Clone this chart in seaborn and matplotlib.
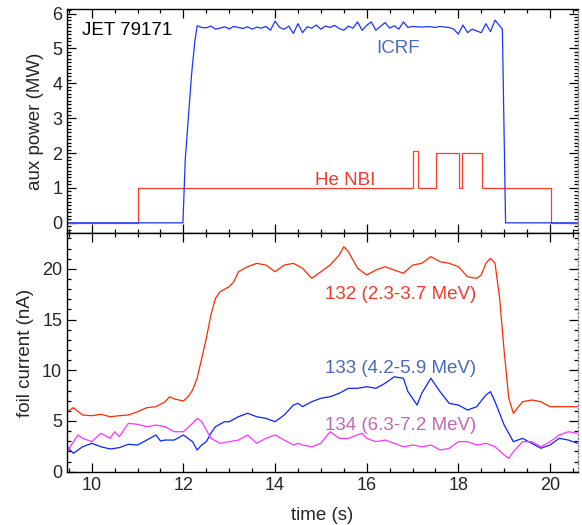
import numpy as np
import pandas as pd
import matplotlib
matplotlib.use("Agg")
import matplotlib.pyplot as plt
from matplotlib.ticker import MultipleLocator
import seaborn as sns

# ---------------- data ----------------
# ICRF power (MW)
icrf_t = [9.46, 11.99, 12.04, 12.11, 12.18, 12.25,
          12.3, 12.4, 12.5, 12.6, 12.7, 12.8, 12.9, 13.0, 13.1, 13.2, 13.3, 13.4, 13.5, 13.6, 13.7,
          13.8, 13.9, 14.0, 14.1, 14.2, 14.3, 14.4, 14.5, 14.6, 14.7, 14.8, 14.9, 15.0, 15.1, 15.2,
          15.3, 15.4, 15.5, 15.6, 15.7, 15.8, 15.9, 16.0, 16.1, 16.2, 16.3, 16.4, 16.5, 16.6, 16.7,
          16.8, 16.9, 17.0, 17.1, 17.2, 17.3, 17.4, 17.5, 17.6, 17.7, 17.8, 17.9, 18.0, 18.1, 18.2,
          18.3, 18.4, 18.5, 18.6, 18.7, 18.8, 18.9, 18.96, 19.03, 20.6]
icrf_p = [0.0, 0.0, 1.80, 3.04, 4.28, 5.20,
          5.65, 5.60, 5.59, 5.64, 5.55, 5.58, 5.62, 5.56, 5.63, 5.60, 5.57, 5.62, 5.55, 5.61, 5.58,
          5.63, 5.52, 5.78, 5.60, 5.55, 5.64, 5.43, 5.71, 5.45, 5.62, 5.58, 5.67, 5.55, 5.64, 5.60,
          5.66, 5.57, 5.52, 5.64, 5.58, 5.76, 5.52, 5.66, 5.76, 5.52, 5.63, 5.74, 5.58, 5.65, 5.55,
          5.76, 5.60, 5.63, 5.62, 5.61, 5.62, 5.62, 5.60, 5.63, 5.61, 5.60, 5.55, 5.41, 5.67, 5.45,
          5.55, 5.50, 5.45, 5.71, 5.48, 5.81, 5.65, 5.55, 0.0, 0.0]

# He NBI power (MW), step changes
nbi_t = [9.46, 11.0, 17.02, 17.11, 17.51, 18.02, 18.07, 18.52, 20.02, 20.6]
nbi_p = [0.0, 1.0, 2.05, 1.0, 2.0, 1.0, 2.0, 1.0, 0.0, 0.0]

# foil currents (nA)
f132_t = [9.46, 9.6, 9.8, 10.0, 10.2, 10.4, 10.6, 10.8, 11.0, 11.2, 11.4, 11.6, 11.7, 11.8, 12.0,
          12.1, 12.2, 12.3, 12.4, 12.5, 12.6, 12.7, 12.8, 13.0, 13.1, 13.2, 13.4, 13.6, 13.8, 14.0,
          14.2, 14.4, 14.6, 14.8, 15.0, 15.2, 15.4, 15.5, 15.6, 15.8, 16.0, 16.2, 16.4, 16.6, 16.8,
          17.0, 17.2, 17.4, 17.6, 17.8, 18.0, 18.2, 18.4, 18.5, 18.6, 18.7, 18.8, 18.9, 19.0, 19.1,
          19.2, 19.4, 19.6, 19.8, 20.0, 20.2, 20.4, 20.6]
f132_i = [5.91, 6.31, 5.59, 5.52, 5.66, 5.42, 5.52, 5.59, 5.91, 6.31, 6.41, 6.90, 7.39, 7.17, 6.97,
          7.39, 8.05, 9.21, 11.18, 13.15, 15.45, 17.09, 17.74, 18.24, 18.73, 19.71, 20.21, 20.54, 20.37, 19.71,
          20.37, 20.54, 20.05, 19.06, 19.71, 20.37, 21.36, 22.18, 21.69, 20.05, 19.39, 19.88, 20.21, 19.88, 19.56,
          20.37, 20.54, 21.20, 20.70, 20.54, 20.21, 19.22, 19.06, 19.39, 20.54, 21.04, 20.54, 17.09, 11.83, 7.24,
          5.76, 6.90, 7.07, 6.90, 6.41, 6.41, 6.41, 6.41]

f133_t = [9.46, 9.6, 9.8, 10.0, 10.2, 10.4, 10.6, 10.8, 11.0, 11.2, 11.4, 11.5, 11.6, 11.8, 12.0,
          12.2, 12.3, 12.4, 12.5, 12.6, 12.7, 12.9, 13.0, 13.2, 13.4, 13.6, 13.8, 14.0, 14.2, 14.4,
          14.5, 14.6, 14.8, 15.0, 15.2, 15.4, 15.6, 15.8, 16.0, 16.2, 16.4, 16.6, 16.8, 16.9, 17.0,
          17.1, 17.2, 17.4, 17.6, 17.8, 18.0, 18.2, 18.4, 18.6, 18.7, 18.8, 19.0, 19.2, 19.4, 19.6,
          19.8, 20.0, 20.2, 20.4, 20.6]
f133_i = [2.46, 1.81, 2.46, 2.80, 2.46, 2.24, 2.37, 2.70, 2.63, 3.12, 3.62, 3.03, 3.12, 3.12, 3.62,
          2.96, 2.14, 2.63, 2.96, 3.79, 4.44, 4.93, 4.93, 5.42, 5.76, 5.42, 5.26, 4.93, 5.59, 6.57,
          6.74, 6.41, 6.90, 7.24, 7.39, 7.73, 8.22, 8.22, 8.38, 8.22, 8.71, 9.36, 9.21, 7.89, 7.24,
          6.57, 7.73, 9.21, 7.89, 6.74, 6.57, 6.08, 6.41, 7.56, 7.89, 6.90, 4.60, 2.96, 3.29, 2.80,
          2.31, 2.63, 3.29, 3.12, 2.80]

f134_t = [9.46, 9.6, 9.7, 9.8, 10.0, 10.2, 10.4, 10.5, 10.6, 10.8, 11.0, 11.2, 11.4, 11.6, 11.8,
          12.0, 12.2, 12.3, 12.4, 12.5, 12.6, 12.8, 13.0, 13.2, 13.4, 13.6, 13.8, 14.0, 14.2, 14.4,
          14.5, 14.6, 14.8, 15.0, 15.2, 15.4, 15.6, 15.8, 15.9, 16.0, 16.2, 16.4, 16.6, 16.8, 17.0,
          17.2, 17.4, 17.6, 17.8, 18.0, 18.2, 18.4, 18.6, 18.8, 19.0, 19.1, 19.2, 19.4, 19.6, 19.8,
          20.0, 20.2, 20.4, 20.6]
f134_i = [1.97, 2.96, 3.62, 3.29, 2.96, 3.79, 3.29, 3.94, 3.45, 4.77, 4.67, 4.44, 4.60, 4.44, 3.94,
          3.94, 4.77, 5.26, 4.93, 4.11, 3.29, 2.80, 2.96, 3.12, 3.62, 2.80, 3.29, 3.62, 3.12, 2.63,
          2.80, 2.63, 2.46, 2.80, 3.94, 3.29, 3.29, 3.62, 3.79, 3.29, 2.96, 3.12, 2.80, 2.46, 2.63,
          2.46, 2.63, 2.14, 2.31, 2.96, 2.96, 2.63, 2.80, 2.46, 1.65, 1.32, 1.97, 2.96, 2.96, 2.46,
          2.96, 3.62, 3.94, 3.79]

shot_label = "JET 79171"
foil_labels = ["132 (2.3-3.7 MeV)", "133 (4.2-5.9 MeV)", "134 (6.3-7.2 MeV)"]

# ---------------- style ----------------
sns.set_style("ticks")
plt.rcParams["font.family"] = ["Liberation Sans", "DejaVu Sans"]
plt.rcParams["axes.linewidth"] = 1.0

fig = plt.figure(figsize=(5.82, 5.25), dpi=100)
ax1 = fig.add_axes([0.1151, 0.5556, 0.8780, 0.4273])
ax2 = fig.add_axes([0.1151, 0.1015, 0.8780, 0.4541], sharex=ax1)

df_nbi = pd.DataFrame({"t": nbi_t, "p": nbi_p})
df_icrf = pd.DataFrame({"t": icrf_t, "p": icrf_p})
sns.lineplot(data=df_nbi, x="t", y="p", ax=ax1, color="#ff3b2b", lw=0.9,
             drawstyle="steps-post", estimator=None, sort=False)
sns.lineplot(data=df_icrf, x="t", y="p", ax=ax1, color="#1a35ff", lw=0.9,
             estimator=None, sort=False)

foil_colors = ["#ff2a00", "#0a23ff", "#ff33ff"]
for tt, ii, c in zip([f132_t, f133_t, f134_t], [f132_i, f133_i, f134_i], foil_colors):
    d = pd.DataFrame({"t": tt, "i": ii})
    sns.lineplot(data=d, x="t", y="i", ax=ax2, color=c, lw=0.9, estimator=None, sort=False)

ax1.set_xlim(9.46, 20.61)
ax1.set_ylim(-0.3, 6.13)
ax2.set_ylim(0, 23.5)

ax1.yaxis.set_major_locator(MultipleLocator(1))
ax1.yaxis.set_minor_locator(MultipleLocator(0.1))
ax2.yaxis.set_major_locator(MultipleLocator(5))
ax2.yaxis.set_minor_locator(MultipleLocator(1))
for ax in (ax1, ax2):
    ax.xaxis.set_major_locator(MultipleLocator(2))
    ax.xaxis.set_minor_locator(MultipleLocator(0.5))
    ax.tick_params(which="both", direction="in", top=True, right=True, labelsize=13,
                   color="black", width=0.9)
    ax.tick_params(which="major", length=6.5)
    ax.tick_params(which="minor", length=3)
    ax.spines["right"].set_linestyle(":")
    ax.spines["right"].set_color("#888888")
    for s in ("left", "bottom", "top"):
        ax.spines[s].set_color("black")

ax1.tick_params(labelbottom=False)
ax1.set_xlabel("")
ax1.set_ylabel("aux power (MW)", fontsize=13.5, labelpad=6)
ax2.set_ylabel("foil current (nA)", fontsize=13.5, labelpad=6)
ax2.set_xlabel("time (s)", fontsize=13.5, labelpad=10)

ax1.text(9.79, 5.52, shot_label, fontsize=13.5, color="black", ha="left", va="center")
ax1.text(16.69, 5.0, "ICRF", fontsize=13.5, color="#4a6cc0", ha="center", va="center")
ax1.text(15.54, 1.22, "He NBI", fontsize=13.5, color="#f03a2e", ha="center", va="center")

label_colors = ["#f23a2a", "#4a6ab8", "#c466b6"]
label_y = [17.42, 10.19, 4.60]
for lab, c, y in zip(foil_labels, label_colors, label_y):
    ax2.text(15.09, y, lab, fontsize=13.5, color=c, ha="left", va="center")

fig.savefig("out.png", dpi=100)
